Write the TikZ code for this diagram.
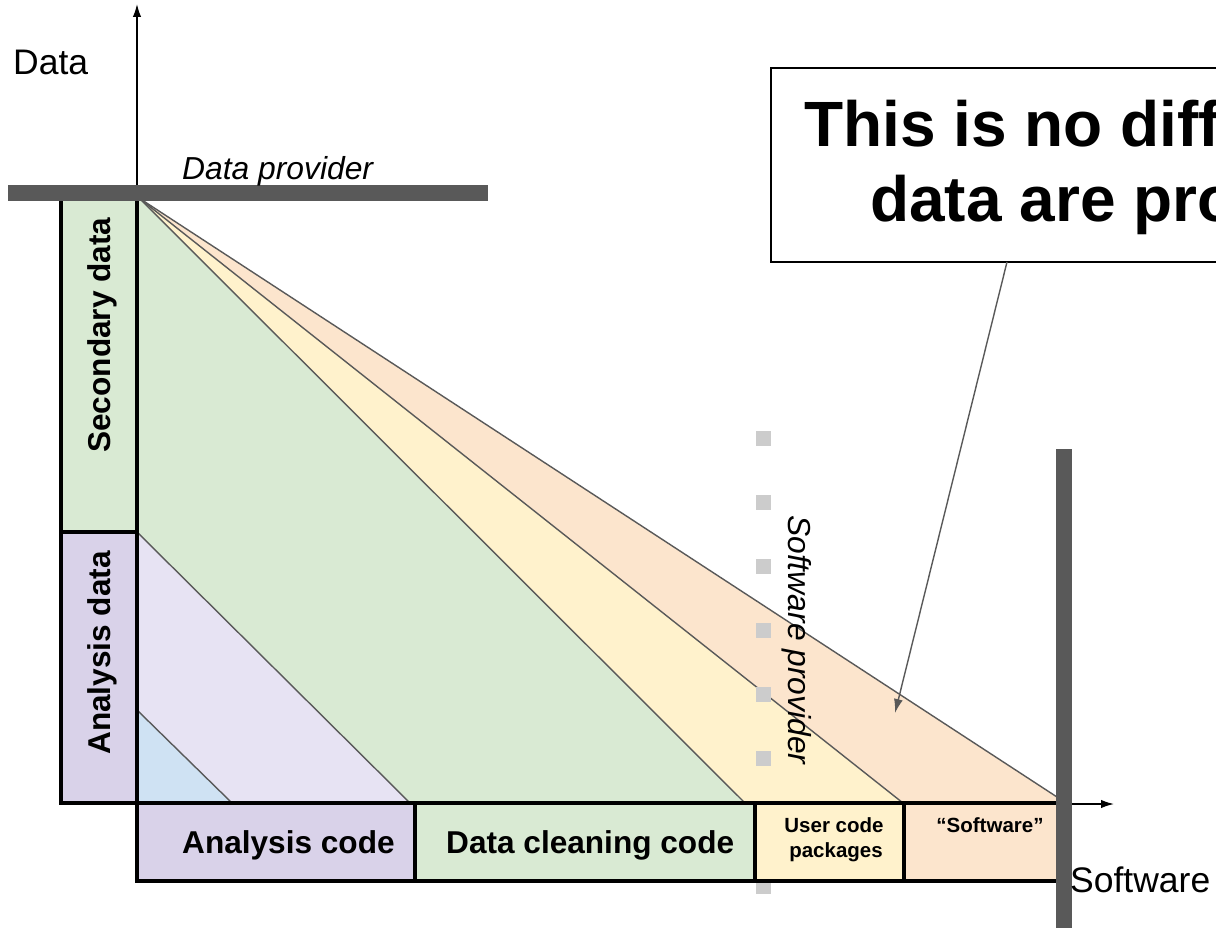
\documentclass[tikz,border=0pt]{standalone}
\usepackage{fontspec}
\setmainfont{Liberation Sans}
\usetikzlibrary{arrows.meta}
\definecolor{bargray}{HTML}{595959}
\definecolor{fgreen}{HTML}{D9EAD3}
\definecolor{fyellow}{HTML}{FFF2CC}
\definecolor{forange}{HTML}{FCE5CD}
\definecolor{fpurple}{HTML}{D9D2E9}
\definecolor{flilac}{HTML}{E7E3F3}
\definecolor{fblue}{HTML}{CFE2F3}
\definecolor{dotgray}{HTML}{CCCCCC}
\begin{document}
\begin{tikzpicture}[x=1pt,y=-1pt,
  fanline/.style={draw=bargray, line width=1.4pt, line join=round},
  boxline/.style={draw=black, line width=3.6pt, line join=miter},
  axisline/.style={draw=black, line width=1.5pt, -{Latex[length=13pt,width=8.5pt]}},
  bigbold/.style={font=\fontsize{31.6}{38}\selectfont\bfseries, inner sep=0pt},
  smallbold/.style={font=\fontsize{20.5}{25}\selectfont\bfseries, inner sep=0pt},
  plainlabel/.style={font=\fontsize{35.5}{42}\selectfont, inner sep=0pt},
  itallabel/.style={font=\fontsize{31.8}{38}\selectfont\itshape, inner sep=0pt},
  calltext/.style={font=\fontsize{64}{76}\selectfont\bfseries, inner sep=0pt}
]
\useasboundingbox (0,0) rectangle (1216,928);

% key points
\coordinate (apex) at (139,198);
\coordinate (origin) at (137,803);
\coordinate (ytip) at (137,4);
\coordinate (xtip) at (1114,804);

% fan regions
\fill[fgreen] (apex) -- (745,803) -- (137,803) -- (137,198) -- cycle;
\fill[fyellow] (apex) -- (903,803) -- (745,803) -- cycle;
\fill[forange] (apex) -- (1057,797) -- (1057,803) -- (903,803) -- cycle;
\fill[flilac] (137,532) -- (410,803) -- (137,803) -- cycle;
\fill[fblue] (137,710) -- (232,803) -- (137,803) -- cycle;
\draw[fanline] (apex) -- (745,803);
\draw[fanline] (apex) -- (903,803);
\draw[fanline] (apex) -- (1057,797);
\draw[fanline] (137,532) -- (410,803);
\draw[fanline] (137,710) -- (232,803);
\draw[fanline] (137,803) -- (1057,803);

% software provider dotted line
\foreach \yy in {438,502,566,630,694,758,822,886}
  \fill[dotgray] (755.5,{\yy-7.5}) rectangle (770.5,{\yy+7.5});

% axes
\draw[axisline] (origin) -- (ytip);
\draw[axisline] (61,804) -- (xtip);

% left boxes
\draw[boxline, fill=fgreen] (61,198) rectangle (137,532);
\draw[boxline, fill=fpurple] (61,532) rectangle (137,803);
% bottom boxes
\draw[boxline, fill=fpurple] (137,803) rectangle (415,881);
\draw[boxline, fill=fgreen] (415,803) rectangle (755,881);
\draw[boxline, fill=fyellow] (755,803) rectangle (904,881);
\draw[boxline, fill=forange] (904,803) rectangle (1060,881);

% provider bars
\fill[bargray] (8,185) rectangle (488,201);
\fill[bargray] (1056,449) rectangle (1072,928);

% labels
\node[plainlabel, anchor=base west] (datalabel) at (13,75) {Data};
\node[itallabel, anchor=base west] (dataprov) at (182,180) {Data provider};
\node[plainlabel, anchor=base west] (swlabel) at (1070,892) {Software};
\node[itallabel, anchor=base west, rotate=-90] (swprov) at (788,515) {Software provider};
\node[bigbold, anchor=base west, rotate=90] (secdata) at (110,453) {Secondary data};
\node[bigbold, anchor=base west, rotate=90] (anadata) at (110,755) {Analysis data};
\node[bigbold, anchor=base west] (anacode) at (182,853) {Analysis code};
\node[bigbold, anchor=base west] (cleancode) at (446,853) {Data cleaning code};
\node[smallbold, anchor=base] (usercode1) at (834,832) {User code};
\node[smallbold, anchor=base] (usercode2) at (836,857) {packages};
\node[smallbold, anchor=base] (softq) at (990,832) {“Software”};

% callout
\node[draw=black, line width=2pt, anchor=north west, minimum width=600pt, minimum height=194pt, inner sep=0pt] (callout) at (770,67) {};
\node[calltext, anchor=base west] (callA) at (804,147) {This is no diff};
\node[calltext, anchor=base west] (callB) at (870,222) {data are pro};
\coordinate (calltail) at (1007,262);
\coordinate (calltip) at (895,713);
\draw[draw=bargray, line width=1.4pt, -{Latex[length=14pt,width=9pt]}, color=bargray] (calltail) -- (calltip);
\end{tikzpicture}
\end{document}
